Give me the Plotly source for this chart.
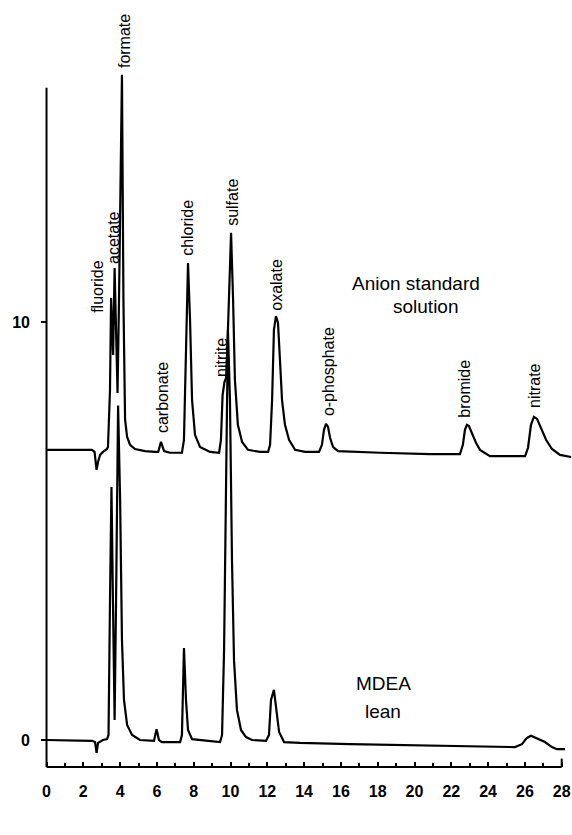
import plotly.graph_objects as go

# ---- data (time in minutes, signal in µS on the plot scale) ----
upper_time = [0.0, 2.47, 2.61, 2.72, 2.80, 2.91, 3.07, 3.29, 3.34, 3.40, 3.45, 3.51, 3.59, 3.62,
              3.70, 3.78, 3.86, 3.94, 4.10, 4.18, 4.27, 4.38, 4.54, 4.81, 5.35, 5.90, 6.07, 6.22,
              6.39, 6.71, 7.36, 7.47, 7.58, 7.69, 7.80, 7.91, 8.07, 8.34, 8.89, 9.38, 9.48, 9.57,
              9.67, 9.76, 9.86, 10.03, 10.14, 10.24, 10.40, 10.63, 10.95, 11.60,
              12.04, 12.15, 12.26, 12.36, 12.47, 12.58, 12.69, 12.80, 12.96, 13.18, 13.51, 14.05,
              14.81, 14.97, 15.08, 15.19, 15.30, 15.41, 15.57, 15.84, 18.13, 20.84,
              22.47, 22.63, 22.74, 22.85, 22.96, 23.12, 23.34, 23.56, 23.89, 24.10,
              26.01, 26.17, 26.33, 26.49, 26.66, 26.87, 27.15, 27.47, 27.91, 28.51]
upper_uS = [6.94, 6.94, 6.89, 6.46, 6.65, 6.82, 6.89, 6.96, 7.01, 8.13, 8.37, 10.57, 9.57, 9.21,
            11.29, 9.57, 8.30, 10.53, 15.91, 10.53, 7.66, 7.25, 7.06, 6.96, 6.91, 6.89, 6.89, 7.13,
            6.91, 6.87, 6.87, 7.18, 9.57, 11.41, 10.05, 8.13, 7.30, 7.01, 6.89, 6.87, 7.18, 8.25,
            8.56, 8.66, 9.81, 12.13, 10.53, 8.61, 7.54, 7.13, 6.94, 6.89,
            6.89, 7.06, 8.13, 9.81, 10.14, 9.98, 9.07, 8.13, 7.54, 7.18, 6.94, 6.89,
            6.89, 7.06, 7.42, 7.56, 7.49, 7.23, 7.01, 6.91, 6.87, 6.84,
            6.84, 7.06, 7.42, 7.54, 7.51, 7.35, 7.11, 6.94, 6.84, 6.79,
            6.79, 6.99, 7.54, 7.73, 7.68, 7.46, 7.18, 6.96, 6.82, 6.77]

lower_time = [0.0, 2.47, 2.64, 2.72, 2.80, 3.07, 3.29, 3.37, 3.45, 3.53, 3.61, 3.70, 3.78, 3.89,
              4.00, 4.10, 4.21, 4.38, 4.65, 5.08, 5.84, 5.98, 6.11, 6.27, 7.26, 7.36, 7.47, 7.58,
              7.69, 7.91, 9.43, 9.54, 9.65, 9.76, 9.86, 9.97, 10.08, 10.19, 10.35, 10.57, 10.84,
              11.17, 11.93, 12.09, 12.20, 12.36, 12.47, 12.64, 12.91, 13.78, 16.49, 19.21, 21.93,
              25.46, 25.84, 26.11, 26.33, 26.60, 27.09, 27.47, 27.74, 28.18]
lower_uS = [0.0, -0.02, -0.05, -0.31, -0.07, 0.0, 0.02, 0.12, 3.35, 6.05, 3.35, 0.48, 3.35, 8.0,
            5.74, 2.39, 0.96, 0.36, 0.12, 0.0, -0.02, 0.26, 0.0, -0.05, -0.05, 0.12, 2.20, 0.96,
            0.24, 0.02, -0.05, 0.12, 2.15, 6.94, 9.81, 8.13, 4.31, 1.91, 0.72, 0.24, 0.07,
            0.0, -0.02, 0.12, 0.96, 1.20, 0.84, 0.19, -0.05, -0.07, -0.10, -0.12, -0.14,
            -0.17, -0.10, 0.05, 0.10, 0.05, -0.05, -0.17, -0.22, -0.22]

peak_names = ["fluoride", "acetate", "formate", "carbonate", "chloride", "nitrite",
              "sulfate", "oxalate", "o-phosphate", "bromide", "nitrate"]
x_tick_vals = [0, 2, 4, 6, 8, 10, 12, 14, 16, 18, 20, 22, 24, 26, 28]
y_tick_vals = [0, 10]
y_tick_text = ["0", "10"]

# ---- figure ----
FONT = "Arial, Liberation Sans, Helvetica, sans-serif"
fig = go.Figure()
fig.add_trace(go.Scatter(x=upper_time, y=upper_uS, mode="lines",
                         line=dict(color="black", width=2.2), hoverinfo="skip", showlegend=False))
fig.add_trace(go.Scatter(x=lower_time, y=lower_uS, mode="lines",
                         line=dict(color="black", width=2.2), hoverinfo="skip", showlegend=False))

# peak label placement (minutes, µS) — layout only
label_pos = [(2.80, 10.84), (3.61, 12.03), (4.27, 16.72), (6.28, 8.18), (7.69, 12.25),
             (9.54, 9.14), (10.14, 12.85), (12.53, 10.89), (15.30, 8.80), (22.74, 8.40),
             (26.49, 8.49)]
annotations = []
for name, (lx, ly) in zip(peak_names, label_pos):
    annotations.append(dict(x=lx, y=ly, xref="x", yref="y", text=name, textangle=-90,
                            showarrow=False, xanchor="center", yanchor="middle",
                            font=dict(family=FONT, size=16, color="black")))

for txt, lx, ly in [("Anion standard", 20.08, 10.93), ("solution", 20.62, 10.36),
                    ("MDEA", 18.29, 1.36), ("lean", 18.29, 0.67)]:
    annotations.append(dict(x=lx, y=ly, xref="x", yref="y", text=txt, showarrow=False,
                            xanchor="center", yanchor="middle",
                            font=dict(family=FONT, size=19, color="black")))

annotations.append(dict(x=-1.44, y=5.79, xref="x", yref="y", text="µS", showarrow=False,
                        xanchor="center", yanchor="middle",
                        font=dict(family=FONT, size=17, color="black")))
annotations.append(dict(x=13.78, y=-2.06, xref="x", yref="y", text="minutes", showarrow=False,
                        xanchor="center", yanchor="middle",
                        font=dict(family=FONT, size=18, color="black")))

shapes = [
    # x axis line from 0 to 28 min
    dict(type="line", xref="x", yref="paper", x0=0, x1=28, y0=0, y1=0,
         line=dict(color="black", width=2)),
    # end tick at 28
    dict(type="line", xref="x", yref="paper", x0=28, x1=28, y0=0, y1=0.011,
         line=dict(color="black", width=2)),
    # y axis line
    dict(type="line", xref="x", yref="y", x0=0, x1=0, y0=-0.646, y1=15.6,
         line=dict(color="black", width=2)),
]

fig.update_layout(
    width=572, height=835, autosize=False,
    margin=dict(l=41, r=0, t=0, b=68, pad=0),
    paper_bgcolor="white", plot_bgcolor="white",
    annotations=annotations, shapes=shapes,
    xaxis=dict(range=[-0.30, 28.56], showgrid=False, zeroline=False, showline=False,
               automargin=False,
               tickvals=x_tick_vals, ticktext=[str(v) for v in x_tick_vals],
               ticks="inside", ticklen=5, tickwidth=1.5, tickcolor="black",
               minor=dict(dtick=1, tick0=0, ticks="inside", ticklen=4, tickwidth=1.5,
                          tickcolor="black", showgrid=False),
               ticklabelstandoff=13,
               tickfont=dict(family=FONT, size=16, color="black", weight="bold")),
    yaxis=dict(range=[-0.646, 17.70], showgrid=False, zeroline=False, showline=False,
               automargin=False,
               tickvals=y_tick_vals, ticktext=y_tick_text,
               ticks="inside", ticklen=6, tickwidth=1.5, tickcolor="black",
               ticklabelstandoff=10,
               tickfont=dict(family=FONT, size=16, color="black", weight="bold")),
)

fig.write_html("out.html", config={"displayModeBar": False},
               post_script="document.body.style.margin='0';document.body.style.overflow='hidden';")
